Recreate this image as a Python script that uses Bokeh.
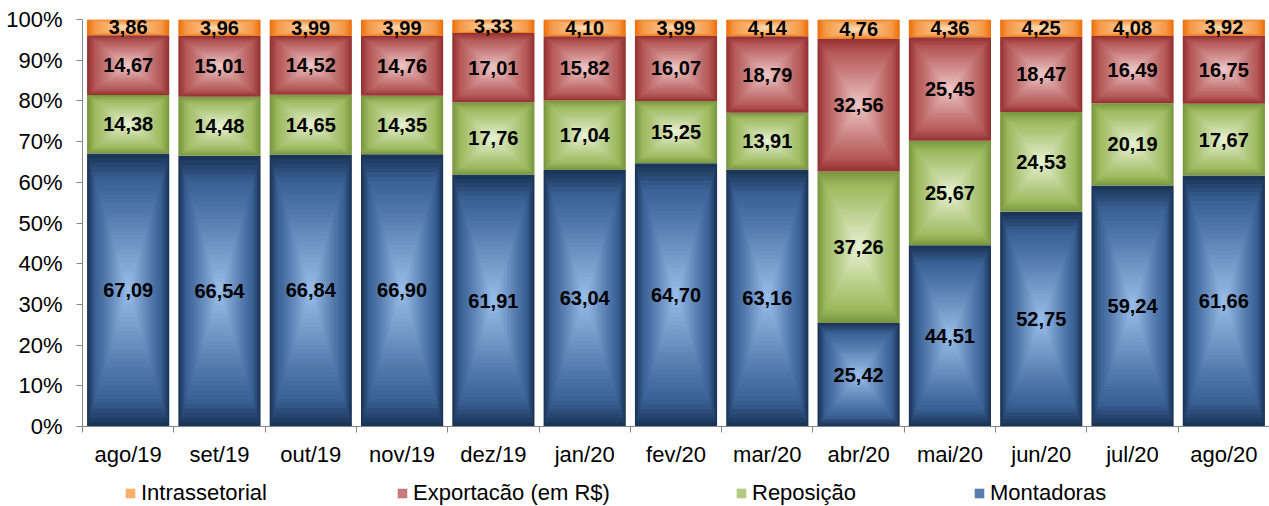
import numpy as np
from bokeh.plotting import figure
from bokeh.layouts import column
from bokeh.models import Range1d, FixedTicker, Legend, LegendItem, ColumnDataSource
from bokeh.core.properties import value
from bokeh.embed import file_html
from bokeh.resources import INLINE

months = ["ago/19", "set/19", "out/19", "nov/19", "dez/19", "jan/20", "fev/20",
          "mar/20", "abr/20", "mai/20", "jun/20", "jul/20", "ago/20"]
montadoras = [67.09, 66.54, 66.84, 66.90, 61.91, 63.04, 64.70, 63.16, 25.42, 44.51, 52.75, 59.24, 61.66]
reposicao = [14.38, 14.48, 14.65, 14.35, 17.76, 17.04, 15.25, 13.91, 37.26, 25.67, 24.53, 20.19, 17.67]
exportacao = [14.67, 15.01, 14.52, 14.76, 17.01, 15.82, 16.07, 18.79, 32.56, 25.45, 18.47, 16.49, 16.75]
intrassetorial = [3.86, 3.96, 3.99, 3.99, 3.33, 4.10, 3.99, 4.14, 4.76, 4.36, 4.25, 4.08, 3.92]
y_ticks = list(range(0, 101, 10))

series = [
    ("Montadoras", montadoras, ("#1b3558", "#3a6196", "#9cc0ec")),
    ("Reposição", reposicao, ("#7a9840", "#9dba60", "#eaf3d6")),
    ("Exportacão (em R$)", exportacao, ("#953232", "#b55858", "#f0caca")),
    ("Intrassetorial", intrassetorial, ("#ee720e", "#f59a48", "#fde3c2")),
]
legend_order = ["Intrassetorial", "Exportacão (em R$)", "Reposição", "Montadoras"]
legend_x = [42, 314, 653, 891]


def h2r(h):
    h = h.lstrip("#")
    return np.array([int(h[i:i + 2], 16) for i in (0, 2, 4)], dtype=float)


def r2h(c):
    return "#%02x%02x%02x" % tuple(int(round(v)) for v in c)


def grad(stops, t, t1=0.18, g=1.1):
    e, m, c = (h2r(s) for s in stops)
    if t < t1:
        return r2h(e + (m - e) * (t / t1))
    u = ((t - t1) / (1 - t1)) ** g
    return r2h(m + (c - m) * u)


n_steps = 30
hw = 0.45

p = figure(width=1269, height=478, x_range=Range1d(0, 13), y_range=Range1d(0, 100),
           output_backend="svg", toolbar_location=None,
           min_border_left=82, min_border_right=0, min_border_top=19, min_border_bottom=52)
p.outline_line_color = None
p.xgrid.visible = False
p.ygrid.visible = False
p.background_fill_color = "white"

bottoms = np.zeros(len(months))
lab_x, lab_y, lab_t = [], [], []
for name, vals, stops in series:
    L, R, B, T, C = [], [], [], [], []
    for i, v in enumerate(vals):
        b = bottoms[i]
        tp = b + v
        cx = i + 0.5
        cy = (b + tp) / 2
        hh = v / 2
        for k in range(n_steps):
            t = k / n_steps
            s = 1 - t
            L.append(cx - hw * s)
            R.append(cx + hw * s)
            B.append(cy - hh * s)
            T.append(cy + hh * s)
            C.append(grad(stops, t))
        lab_x.append(cx)
        lab_y.append(cy)
        lab_t.append(f"{v:.2f}".replace(".", ","))
    bottoms = bottoms + np.array(vals)
    src = ColumnDataSource(dict(left=L, right=R, bottom=B, top=T, color=C))
    p.quad(left="left", right="right", bottom="bottom", top="top", source=src,
           fill_color="color", line_color=None)

p.text(x=lab_x, y=lab_y, text=lab_t, text_font=value("Liberation Sans"),
       text_font_style="bold", text_font_size="20px", text_align="center",
       text_baseline="middle", text_color="black")

axis_col = "#868686"
xa = p.xaxis[0]
xa.ticker = FixedTicker(ticks=[i + 0.5 for i in range(len(months))],
                        minor_ticks=list(range(len(months) + 1)))
xa.major_label_overrides = {i + 0.5: m for i, m in enumerate(months)}
xa.major_tick_line_color = None
xa.major_tick_out = 6
xa.major_tick_in = 0
xa.minor_tick_out = 6
xa.minor_tick_in = 0
xa.minor_tick_line_color = axis_col
xa.axis_line_color = axis_col
xa.major_label_text_font = "Liberation Sans"
xa.major_label_text_font_size = "22px"
xa.major_label_text_color = "black"
xa.major_label_standoff = 9

ya = p.yaxis[0]
ya.ticker = FixedTicker(ticks=y_ticks, minor_ticks=[])
ya.major_label_overrides = {v: f"{v}%" for v in y_ticks}
ya.major_tick_out = 6
ya.major_tick_in = 0
ya.minor_tick_line_color = None
ya.major_tick_line_color = axis_col
ya.axis_line_color = axis_col
ya.major_label_text_font = "Liberation Sans"
ya.major_label_text_font_size = "22px"
ya.major_label_text_color = "black"
ya.major_label_standoff = 14

# legend strip
lp = figure(width=1269, height=28, x_range=Range1d(0, 1), y_range=Range1d(0, 1),
            output_backend="svg", toolbar_location=None,
            x_axis_location=None, y_axis_location=None,
            min_border_left=0, min_border_right=0, min_border_top=0, min_border_bottom=0)
lp.outline_line_color = None
lp.xgrid.visible = False
lp.ygrid.visible = False
stops_by_name = {nm: st for nm, _, st in series}
for nm, x0 in zip(legend_order, legend_x):
    r = lp.quad(left=[2], right=[3], bottom=[2], top=[3],
                fill_color=grad(stops_by_name[nm], 0.45), line_color=None)
    lg = Legend(items=[LegendItem(label=nm, renderers=[r])], location=(x0, 0),
                label_standoff=5, glyph_width=12, glyph_height=12,
                padding=0, margin=0, border_line_color=None,
                background_fill_alpha=0,
                label_text_font="Liberation Sans", label_text_font_size="22px",
                label_text_color="black")
    lp.add_layout(lg, "center")

layout = column(p, lp, spacing=0)
open("out.html", "w").write(file_html(layout, INLINE))
